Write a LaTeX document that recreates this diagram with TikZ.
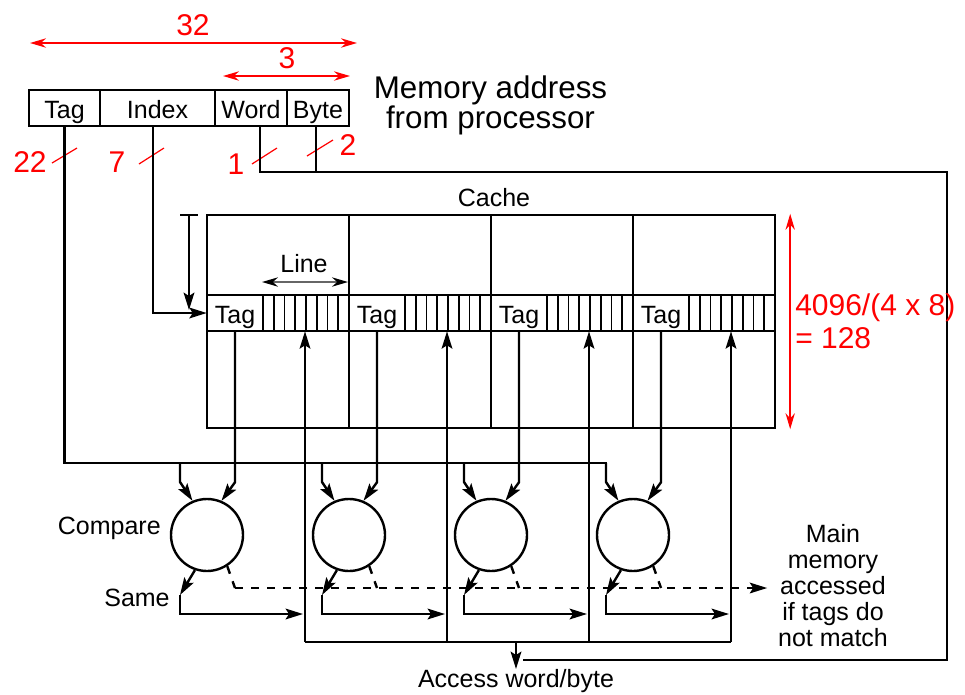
\documentclass[tikz,border=0pt]{standalone}
\usepackage{fontspec}
\setmainfont{Liberation Sans}
\usetikzlibrary{arrows.meta}
\definecolor{DimRed}{RGB}{255,0,0}

\begin{document}
\begin{tikzpicture}[x=0.75pt, y=-0.75pt,
    fld/.style={draw, line width=1.8pt, minimum height=27pt, inner sep=0pt,
                text height=17pt, text depth=2pt,
                font=\fontsize{18.75}{20}\selectfont},
    txt/.style={inner sep=0pt, align=center,
                font=\fontsize{18.75}{19.5}\selectfont},
    rtxt/.style={inner sep=0pt, align=left, text=DimRed,
                 font=\fontsize{22.5}{24.75}\selectfont},
    ln/.style={draw, line width=1.8pt},
    arr/.style={->, >={Stealth[length=13pt, width=8pt, inset=2.5pt]},
                draw, line width=1.8pt},
    dsh/.style={draw, line width=1.8pt, dash pattern=on 6pt off 6pt},
    rarr/.style={<->, >={Stealth[length=12pt, width=7pt]}, draw=DimRed,
                 line width=1.4pt},
    rsl/.style={draw=DimRed, line width=0.9pt},
    cmp/.style={circle, draw, line width=1.8pt, minimum size=54pt,
                inner sep=0pt}
  ]
  \useasboundingbox (0,0) rectangle (965,694);

  % Address fields
  \node[fld, minimum width=53.25pt] (tagf)  at (64.5,108)  {Tag};
  \node[fld, minimum width=86.25pt] (idxf)  at (157.5,108) {Index};
  \node[fld, minimum width=54pt]    (wordf) at (251,108)   {Word};
  \node[fld, minimum width=46.5pt]  (bytef) at (318,108)   {Byte};
  \node[txt, font=\fontsize{23.5}{20.5}\selectfont]
        (addr) at (490.5,105.5) {Memory address\\from processor};

  % Field widths
  \coordinate (w32a) at (30,43);  \coordinate (w32b) at (357,43);
  \coordinate (w3a)  at (223,76); \coordinate (w3b)  at (350,76);
  \draw[rarr] (w32a) -- (w32b);
  \draw[rarr] (w3a)  -- (w3b);
  \node[rtxt] (l32) at (193,25) {32};
  \node[rtxt] (l3)  at (287,58) {3};

  % Bit counts
  \draw[rsl] (52,163)  -- (77,148);
  \draw[rsl] (139,164) -- (164,148);
  \draw[rsl] (252,164) -- (277,148);
  \draw[rsl] (307,156) -- (333,140);
  \node[rtxt] (n22) at (30,162)  {22};
  \node[rtxt] (n7)  at (117,162) {7};
  \node[rtxt] (n1)  at (236,164) {1};
  \node[rtxt] (n2)  at (348,145) {2};

  % Cache
  \node[draw, line width=1.8pt, minimum width=426pt,
        minimum height=159.75pt, inner sep=0pt] (cache) at (491,321.5) {};
  \node[txt] (cachel) at (494,198) {Cache};
  \draw[ln] (207,295) -- (775,295) (207,331) -- (775,331);

  % Columns, compares and their wiring
  \foreach \i/\x in {1/207, 2/349, 3/491, 4/633} {
    \draw[ln] (\x,215) -- (\x,428);
    \node[txt, minimum width=42pt, minimum height=27pt,
          text height=17pt, text depth=2pt] (t\i) at (\x+28,313) {Tag};
    \foreach \k in {0,...,7}
      \draw[line width=1.3pt] (\x+56+\k*10.75,295) -- (\x+56+\k*10.75,331);
    \node[cmp] (c\i) at (\x,535) {};
    \coordinate (d\i) at (\x+98,642);
    \coordinate (s\i) at (\x-27,595);
    \draw[arr] (\x-27,463) -- (\x-27,482) -- (c\i.113);
    \draw[arr] (t\i.south) -- ++(0,151) -- (c\i.67);
    \draw[arr] (d\i) -- (d\i |- t\i.south);
    \draw[arr] (c\i.251) -- (s\i);
    \draw[arr] (s\i) |- (\x+96,614);
    \draw[dsh] (c\i.-57) -- (\x+28,588);
  }

  % Line width marker
  \draw[<->, >={Stealth[length=12pt, width=7pt, black]}, draw=black!60,
        line width=1.3pt] (262,282) -- (348,282);
  \node[txt] (linel) at (304,264) {Line};

  % Index into cache
  \draw[ln] (180,215) -- (198,215);
  \draw[arr] (189,215) -- (189,310);
  \draw[arr] ([xshift=-3.4pt]idxf.south) |- (t1.west);

  % Tag bus
  \draw[ln] (tagf.south) |- (607,463);

  % Word / byte select
  \draw[ln] ([xshift=6.75pt]wordf.south) |- (947,172) -- (947,660) -- (523,660);
  \draw[ln] ([xshift=-1.5pt]bytef.south) -- ++(0,46);

  % Data out
  \coordinate (acc) at (516,642);
  \node[txt, anchor=north] (accl) at (516,669) {Access word/byte};
  \draw[ln] (d1) -- (d4);
  \draw[arr] (acc) -- (accl.north);

  % Miss path
  \node[txt, inner sep=8pt] (mm) at (833,586)
        {Main\\memory\\accessed\\if tags do\\not match};
  \draw[dsh, arr] (235,588) -- (mm.west |- 0,588);

  % Labels
  \node[txt, anchor=east] (cmpl)  at (161,528) {Compare};
  \node[txt]              (samel) at (137,598) {Same};

  % Cache depth
  \draw[rarr] ([xshift=10.5pt]cache.north east) -- ([xshift=10.5pt]cache.south east);
  \node[rtxt, anchor=west] (cnt) at (795,321) {4096/(4 x 8)\\= 128};
\end{tikzpicture}
\end{document}
